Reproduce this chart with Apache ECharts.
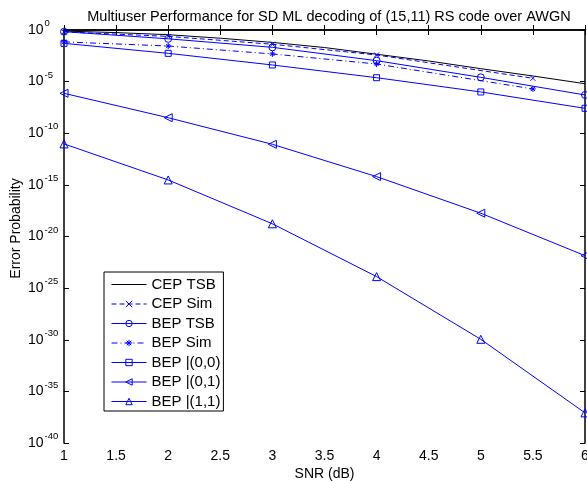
<!DOCTYPE html>
<html><head><meta charset="utf-8">
<script src="https://cdn.jsdelivr.net/npm/echarts@6/dist/echarts.min.js"></script>
<style>html,body{margin:0;padding:0;background:#fff}#c{width:587px;height:481px}</style>
</head><body><div id="c"></div>
<script>
// SNR grids (dB)
const snrFine = [1, 1.5, 2, 2.5, 3, 3.5, 4, 4.5, 5, 5.5, 6];
const snrPts = [1, 2, 3, 4, 5, 6];
const snrSim = [1, 2, 3, 4, 5.5];
// error probabilities
const cepTsb = [0.79, 0.56, 0.35, 0.16, 0.063, 0.02, 4.5e-3, 1.0e-3, 1.8e-4, 3.5e-5, 6.3e-6];
const cepSim = [0.66, 0.24, 0.042, 3.8e-3, 2.1e-5];
const bepTsb = [0.69, 0.14, 0.021, 1.07e-3, 2.6e-5, 5.1e-7];
const bepSim = [0.071, 0.028, 4.8e-3, 5.1e-4, 1.95e-6];
const bep00 = [0.051, 5.5e-3, 4.1e-4, 2.4e-5, 1.0e-6, 2.6e-8];
const bep01 = [7.4e-7, 3.2e-9, 8.5e-12, 6.3e-15, 1.8e-18, 1.4e-22];
const bep11 = [9.3e-12, 3.0e-15, 1.7e-19, 1.3e-24, 1.1e-30, 8.3e-38];
// axes
const xMin = 1, xMax = 6, xStep = 0.5;
const yExpMin = -40, yExpMax = 0, yExpStep = 5;
const names = ['CEP TSB', 'CEP Sim', 'BEP TSB', 'BEP Sim', 'BEP |(0,0)', 'BEP |(0,1)', 'BEP |(1,1)'];

const BLUE = '#0000ff';
const FONT = 'Liberation Sans, Arial, sans-serif';
function pts(xs, vs) { return xs.map((x, i) => [x, Math.log10(vs[i])]); }
const hollow = { color: 'rgba(0,0,0,0)', borderColor: BLUE, borderWidth: 1 };
const X_PATH = 'path://M0 0L10 10M10 0L0 10';
const STAR_PATH = 'path://M5 0L5 10M0 5L10 5M1.5 1.5L8.5 8.5M8.5 1.5L1.5 8.5';

function mk(name, xs, vs, opts) {
  return Object.assign({
    name: name, type: 'line', data: pts(xs, vs),
    xAxisIndex: 0, yAxisIndex: 0,
    showSymbol: true, animation: false, silent: true,
    lineStyle: { color: BLUE, width: 1, type: 'solid' },
    itemStyle: hollow, symbolSize: 6
  }, opts);
}

const series = [
  mk(names[0], snrFine, cepTsb, { symbol: 'none', lineStyle: { color: '#000', width: 1 },
    itemStyle: { color: 'rgba(0,0,0,0)', borderColor: 'rgba(0,0,0,0)', borderWidth: 0 } }),
  mk(names[1], snrSim, cepSim, { symbol: X_PATH, symbolSize: 5, lineStyle: { color: BLUE, width: 1, type: [5, 3] } }),
  mk(names[2], snrPts, bepTsb, { symbol: 'circle', symbolSize: 7 }),
  mk(names[3], snrSim, bepSim, { symbol: STAR_PATH, symbolSize: 6, lineStyle: { color: BLUE, width: 1, type: [6, 3, 1, 3] } }),
  mk(names[4], snrPts, bep00, { symbol: 'rect', symbolSize: 6 }),
  mk(names[5], snrPts, bep01, { symbol: 'triangle', symbolSize: 8, symbolRotate: 90 }),
  mk(names[6], snrPts, bep11, { symbol: 'triangle', symbolSize: 8 })
];

const axisLine = { show: true, lineStyle: { color: '#000', width: 1.5 } };
const tickIn = { show: true, inside: true, length: 5, lineStyle: { color: '#000', width: 1 } };

const option = {
  animation: false,
  backgroundColor: '#fff',
  title: {
    text: 'Multiuser Performance for SD ML decoding of (15,11) RS code over AWGN',
    left: 324, top: 4, textAlign: 'center',
    textStyle: { fontFamily: FONT, fontSize: 14.5, fontWeight: 'normal', color: '#000' }
  },
  grid: { left: 64, right: 2, top: 30, bottom: 38, containLabel: false, outerBoundsMode: 'none' },
  legend: {
    data: names, orient: 'vertical', left: 104, top: 272,
    itemWidth: 35, itemHeight: 8, itemGap: 4.5,
    padding: [5, 3, 2, 7],
    backgroundColor: '#fff', borderColor: '#000', borderWidth: 1, borderRadius: 0,
    lineStyle: { width: 1 },
    itemStyle: { borderWidth: 1 },
    textStyle: { fontFamily: FONT, fontSize: 15, color: '#000', lineHeight: 14 },
    selectedMode: false
  },
  xAxis: [{
    type: 'value', min: xMin, max: xMax, interval: xStep, position: 'bottom',
    name: 'SNR (dB)', nameLocation: 'middle', nameGap: 24, nameMoveOverlap: false,
    nameTextStyle: { fontFamily: FONT, fontSize: 14, color: '#000' },
    axisLine: axisLine, axisTick: tickIn, splitLine: { show: false },
    axisLabel: { margin: 6, fontFamily: FONT, fontSize: 14, color: '#000', showMinLabel: true, showMaxLabel: true }
  }, {
    type: 'value', min: xMin, max: xMax, interval: xStep, position: 'top',
    axisLine: axisLine, axisTick: tickIn, splitLine: { show: false }, axisLabel: { show: false }
  }],
  yAxis: [{
    type: 'value', min: yExpMin, max: yExpMax, interval: yExpStep, position: 'left',
    name: 'Error Probability', nameLocation: 'middle', nameGap: 41, nameMoveOverlap: false,
    nameTextStyle: { fontFamily: FONT, fontSize: 14, color: '#000', padding: [0, 0, 0, 16] },
    axisLine: axisLine, axisTick: tickIn, splitLine: { show: false },
    axisLabel: {
      align: 'left', margin: 36,
      formatter: v => '{b|10}{s|' + Math.round(v) + '}',
      rich: {
        b: { fontFamily: FONT, fontSize: 14, color: '#000', lineHeight: 14 },
        s: { fontFamily: FONT, fontSize: 9.5, color: '#000', padding: [0, 0, 13, 1] }
      }
    }
  }, {
    type: 'value', min: yExpMin, max: yExpMax, interval: yExpStep, position: 'right',
    axisLine: axisLine, axisTick: tickIn, splitLine: { show: false }, axisLabel: { show: false }
  }],
  series: series
};
const chart = echarts.init(document.getElementById('c'), null, { renderer: 'canvas' });
chart.setOption(option);
</script></body></html>
